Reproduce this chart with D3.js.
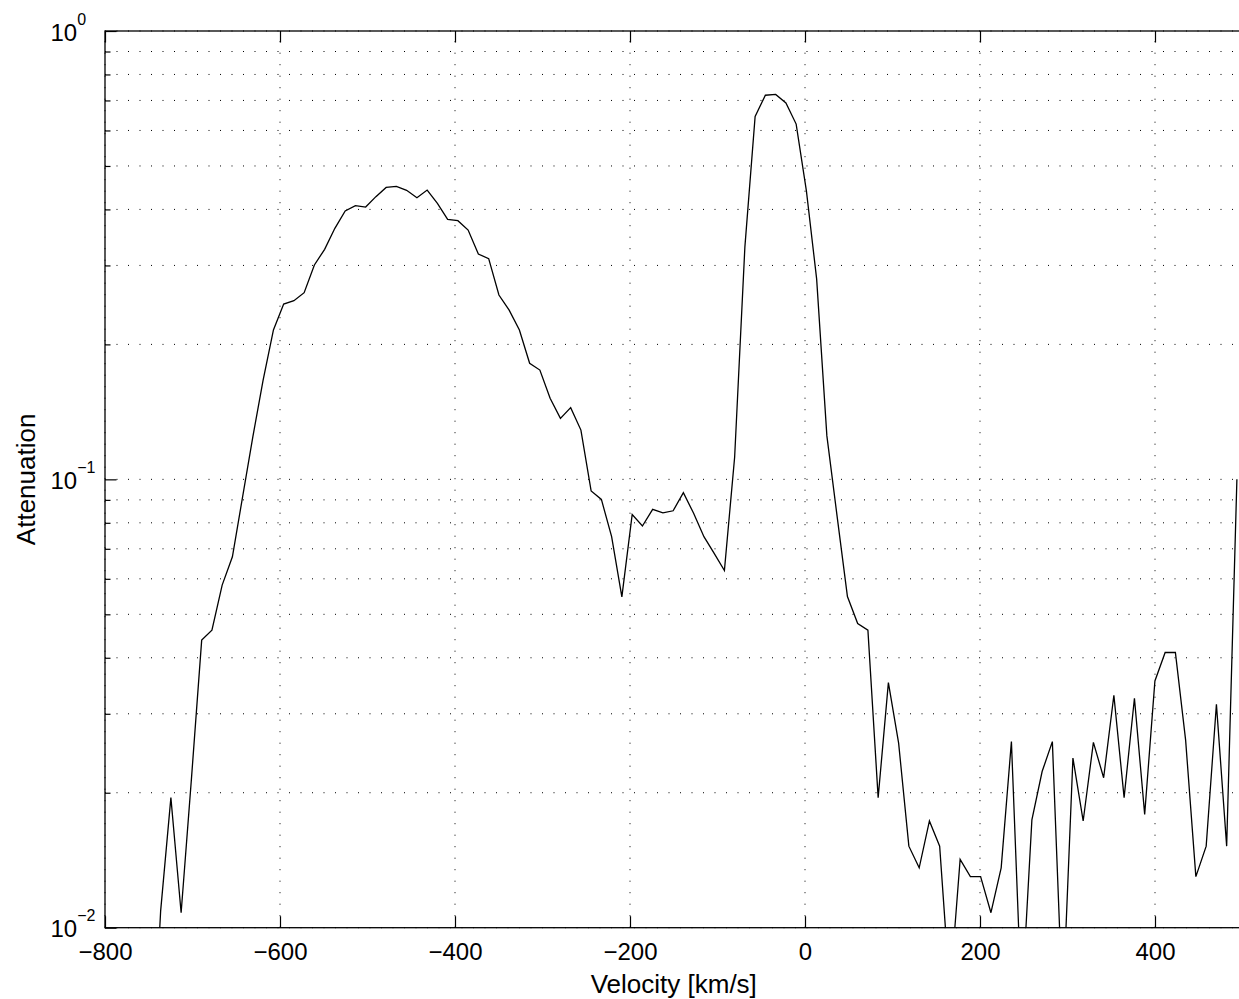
<!DOCTYPE html>
<html>
<head>
<meta charset="utf-8">
<script src="https://cdn.jsdelivr.net/npm/d3@7"></script>
<style>
  body { margin: 0; background: #fff; }
  svg { display: block; font-family: "Liberation Sans", Arial, sans-serif; }
</style>
</head>
<body>
<div id="chart"></div>
<script>
const width = 1239;
const height = 999;

// channel velocities (km/s) and measured attenuation
const velocity = [
  -748.1, -736.4, -724.7, -713.0, -701.2, -689.5, -677.8, -666.1, -654.4, -642.7,
  -631.0, -619.3, -607.5, -595.8, -584.1, -572.4, -560.7, -549.0, -537.3, -525.5,
  -513.8, -502.1, -490.4, -478.7, -467.0, -455.3, -443.5, -431.8, -420.1, -408.4,
  -396.7, -385.0, -373.3, -361.5, -349.8, -338.1, -326.4, -314.7, -303.0, -291.3,
  -279.5, -267.8, -256.1, -244.4, -232.7, -221.0, -209.3, -197.5, -185.8, -174.1,
  -162.4, -150.7, -139.0, -127.3, -115.5, -103.8, -92.1, -80.4, -68.7, -57.0,
  -45.3, -33.5, -21.8, -10.1, 1.6, 13.3, 25.0, 36.7, 48.5, 60.2,
  71.9, 83.6, 95.3, 107.0, 118.7, 130.5, 142.2, 153.9, 165.6, 177.3,
  189.0, 200.7, 212.5, 224.2, 235.9, 247.6, 259.3, 271.0, 282.7, 294.5,
  306.2, 317.9, 329.6, 341.3, 353.0, 364.7, 376.5, 388.2, 399.9, 411.6,
  423.3, 435.0, 446.7, 458.5, 470.2, 481.9, 493.6
];
const attenuation = [
  0.004, 0.0109, 0.0195, 0.0108, 0.0215, 0.0438, 0.0461, 0.0581, 0.0672, 0.0915,
  0.1245, 0.1665, 0.2154, 0.246, 0.2503, 0.2608, 0.3007, 0.3259, 0.363, 0.3968,
  0.4077, 0.4049, 0.4271, 0.4479, 0.4503, 0.4412, 0.4249, 0.4418, 0.4127, 0.3802,
  0.3775, 0.3598, 0.3181, 0.3106, 0.2577, 0.2385, 0.2154, 0.1815, 0.1753, 0.1516,
  0.1368, 0.1445, 0.1288, 0.0942, 0.0902, 0.0745, 0.0547, 0.0835, 0.0787, 0.0857,
  0.0842, 0.0851, 0.0934, 0.084, 0.0745, 0.0684, 0.0626, 0.1122, 0.33, 0.645,
  0.719, 0.722, 0.691, 0.62, 0.44, 0.28, 0.125, 0.0827, 0.0548, 0.0477,
  0.0461, 0.0195, 0.0352, 0.0258, 0.0152, 0.0136, 0.0173, 0.0152, 0.0072, 0.0142,
  0.013, 0.013, 0.0108, 0.0136, 0.026, 0.0067, 0.0174, 0.0223, 0.026, 0.0066,
  0.0239, 0.0173, 0.0259, 0.0216, 0.033, 0.0195, 0.0325, 0.0179, 0.0355, 0.0411,
  0.0411, 0.0262, 0.013, 0.0152, 0.0315, 0.0152, 0.1
];

const xTicks = [-800, -600, -400, -200, 0, 200, 400];
const yTicks = [0.01, 0.1, 1];
const yTickExp = ["\u22122", "\u22121", "0"];
const yMinor = [0.02, 0.03, 0.04, 0.05, 0.06, 0.07, 0.08, 0.09,
                0.2, 0.3, 0.4, 0.5, 0.6, 0.7, 0.8, 0.9];

const plotLeft = 105, plotTop = 31, plotBottom = 927.7, plotRight = 1242.5;

const x = d3.scaleLinear().domain([-800, 500]).range([plotLeft, plotRight]);
const y = d3.scaleLog().domain([0.01, 1]).range([plotBottom, plotTop]);

const svg = d3.select("#chart").append("svg")
  .attr("width", width)
  .attr("height", height);

// dotted grid
const grid = svg.append("g")
  .attr("stroke", "#000")
  .attr("stroke-width", 1)
  .attr("stroke-dasharray", "1,10.5");

grid.selectAll(".hg")
  .data(yTicks.concat(yMinor))
  .enter().append("line")
    .attr("x1", plotLeft).attr("x2", plotRight)
    .attr("y1", d => y(d)).attr("y2", d => y(d));

grid.selectAll(".vg")
  .data(xTicks)
  .enter().append("line")
    .attr("x1", d => x(d)).attr("x2", d => x(d))
    .attr("y1", plotBottom).attr("y2", plotTop);

// data line
svg.append("clipPath").attr("id", "clip")
  .append("rect")
    .attr("x", plotLeft).attr("y", plotTop)
    .attr("width", plotRight - plotLeft).attr("height", plotBottom - plotTop);

const line = d3.line()
  .x((d, i) => x(velocity[i]))
  .y(d => y(d));

svg.append("path")
  .datum(attenuation)
  .attr("clip-path", "url(#clip)")
  .attr("fill", "none")
  .attr("stroke", "#000")
  .attr("stroke-width", 1.3)
  .attr("d", line);

// axes (ticks pointing inward)
const xBottom = svg.append("g")
  .attr("transform", `translate(0,${plotBottom})`)
  .call(d3.axisBottom(x).tickValues(xTicks).tickSizeInner(-11.5).tickSizeOuter(0).tickPadding(15));
svg.append("g")
  .attr("transform", `translate(0,${plotTop})`)
  .call(d3.axisTop(x).tickValues(xTicks).tickSizeInner(-11.5).tickSizeOuter(0).tickFormat(""));
svg.append("g")
  .attr("transform", `translate(${plotLeft},0)`)
  .call(d3.axisLeft(y).tickValues(yTicks).tickSizeInner(-11.5).tickSizeOuter(0).tickFormat(""));
svg.append("g")
  .attr("transform", `translate(${plotLeft},0)`)
  .call(d3.axisLeft(y).tickValues(yMinor).tickSizeInner(-5.5).tickSizeOuter(0).tickFormat(""));

svg.selectAll(".domain").remove();
svg.selectAll(".tick line").attr("stroke", "#000").attr("stroke-width", 1.2);
xBottom.selectAll("text")
  .attr("fill", "#000")
  .style("font-size", "24px")
  .style("font-family", "'Liberation Sans', Arial, sans-serif");

// box
svg.append("rect")
  .attr("x", plotLeft).attr("y", plotTop)
  .attr("width", plotRight - plotLeft).attr("height", plotBottom - plotTop)
  .attr("fill", "none")
  .attr("stroke", "#000")
  .attr("stroke-width", 1.3);

// y tick labels 10^n
const yl = svg.selectAll(".ylab")
  .data(yTicks)
  .enter().append("text")
    .attr("x", 50.5)
    .attr("y", d => y(d) + 9.5)
    .style("font-size", "24px");
yl.append("tspan").text("10");
yl.append("tspan")
  .attr("dy", -16)
  .style("font-size", "16px")
  .text((d, i) => yTickExp[i]);

// axis labels
svg.append("text")
  .attr("x", (plotLeft + plotRight) / 2)
  .attr("y", 993)
  .attr("text-anchor", "middle")
  .style("font-size", "26px")
  .text("Velocity [km/s]");

svg.append("text")
  .attr("transform", `translate(35,${(plotTop + plotBottom) / 2}) rotate(-90)`)
  .attr("text-anchor", "middle")
  .style("font-size", "26px")
  .text("Attenuation");
</script>
</body>
</html>
